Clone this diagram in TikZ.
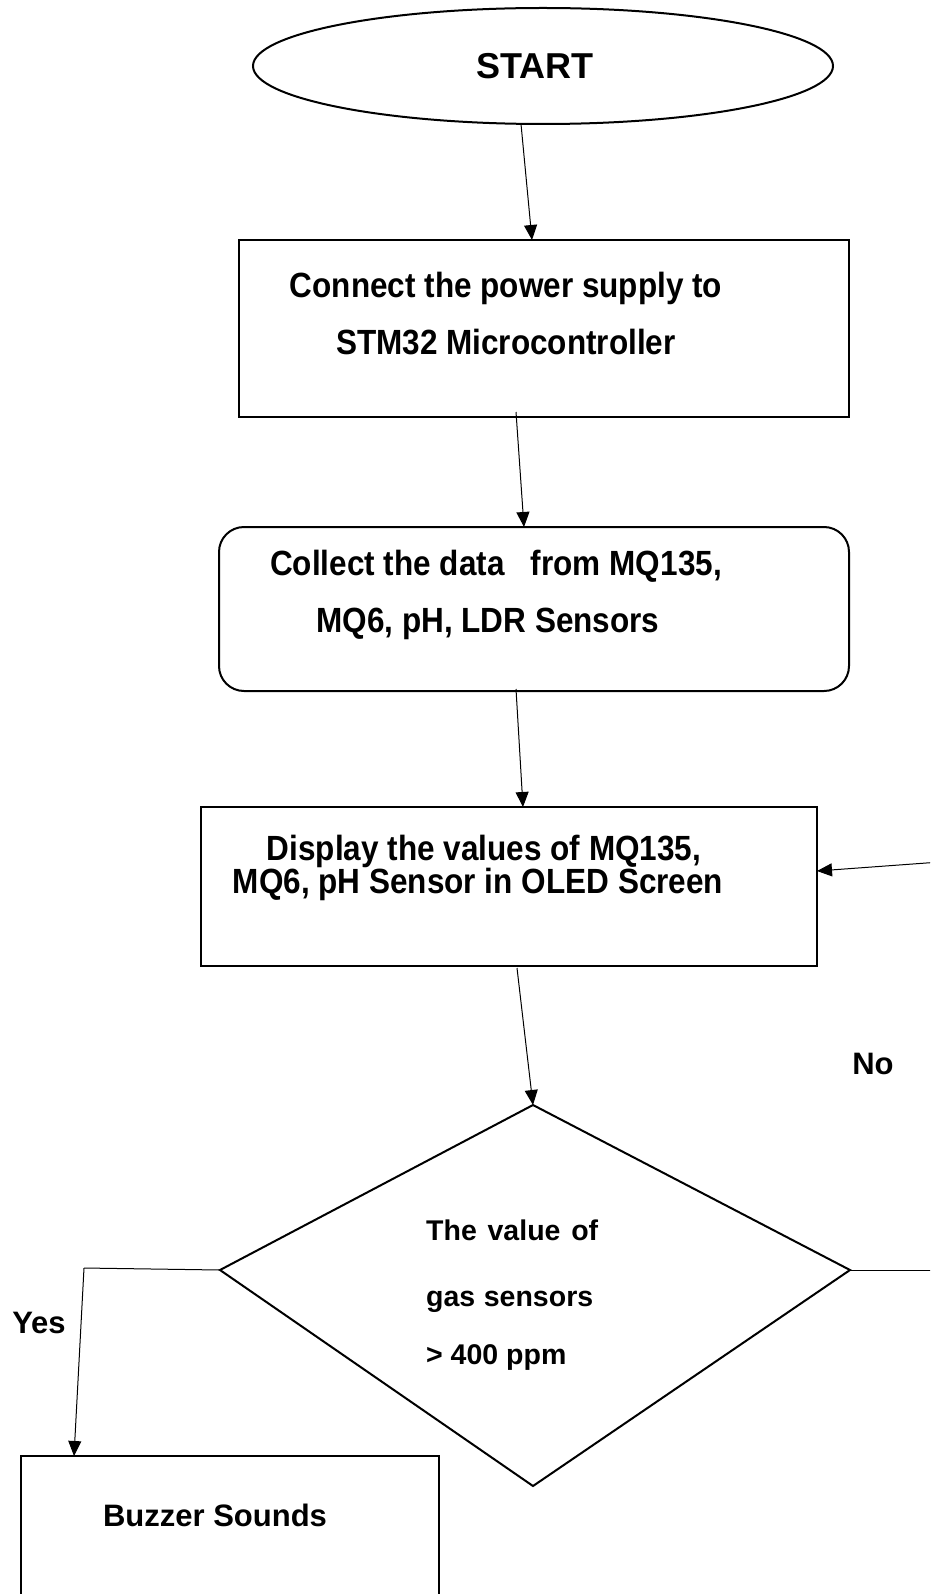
\documentclass[tikz,border=0pt]{standalone}
\usepackage{fontspec}
\setmainfont{Liberation Sans}
\newfontfamily\narrowfont{Liberation Sans}[FakeStretch=0.9]
\usetikzlibrary{shapes.geometric,arrows.meta}
\begin{document}
\begin{tikzpicture}[x=1pt,y=-1pt,
  shapebox/.style={draw,line width=2pt,inner sep=0pt,outer sep=0pt},
  boxtext/.style={font=\narrowfont\bfseries\fontsize{35}{40}\selectfont,inner sep=0pt,anchor=base},
  plaintext/.style={font=\bfseries\fontsize{31}{36}\selectfont,inner sep=0pt,anchor=base},
  dtext/.style={font=\bfseries\fontsize{28.5}{34}\selectfont,inner sep=0pt,anchor=base west},
  arr/.style={line width=1pt,-{Triangle[length=15pt,width=13pt]}},
  conn/.style={line width=1pt}]
\useasboundingbox (0,0) rectangle (930,1594);
\clip (0,0) rectangle (930,1594);
% shapes
\node[shapebox,ellipse,minimum width=580pt,minimum height=116pt] (start) at (543,66) {};
\node[font=\bfseries\fontsize{36}{42}\selectfont,inner sep=0pt,anchor=base] (starttxt) at (535,79) {START};
\node[shapebox,minimum width=610pt,minimum height=177pt] (b1) at (544,328.5) {};
\node[shapebox,rounded corners=25pt,minimum width=630pt,minimum height=164pt] (b2) at (534,609) {};
\node[shapebox,minimum width=616pt,minimum height=159pt] (b3) at (509,886.5) {};
\coordinate (dtop) at (533,1105);
\coordinate (dright) at (850,1270);
\coordinate (dbot) at (533,1486);
\coordinate (dleft) at (220,1270);
\draw[line width=2pt,line join=miter] (dtop) -- (dright) -- (dbot) -- (dleft) -- cycle;
\node[shapebox,minimum width=418pt,minimum height=184pt] (buz) at (230,1548) {};
% texts
\node[boxtext] (t1a) at (506,298) {Connect the power supply to};
\node[boxtext] (t1b) at (506,354) {STM32 Microcontroller};
\node[boxtext] (t2a) at (496,575) {Collect the data\ \ \ from MQ135,};
\node[boxtext] (t2b) at (488,632) {MQ6, pH, LDR Sensors};
\node[boxtext] (t3a) at (484,860) {Display the values of MQ135,};
\node[boxtext] (t3b) at (478,893) {MQ6, pH Sensor in OLED Screen};
\node[dtext] (d1) at (426,1240) {\makebox[172pt][s]{The value of}};
\node[dtext] (d2) at (426,1306) {\makebox[167pt][s]{gas sensors}};
\node[dtext] (d3) at (426,1364) {> 400 ppm};
\node[plaintext] (buztxt) at (215,1526) {Buzzer Sounds};
\node[plaintext] (yes) at (39,1333) {Yes};
\node[plaintext] (no) at (873,1074) {No};
% connectors
\draw[arr] ([xshift=-22pt]start.south) -- ([xshift=-12pt]b1.north);
\draw[arr] ([xshift=-28pt,yshift=5pt]b1.south) -- ([xshift=-10pt]b2.north);
\draw[arr] ([xshift=-18pt,yshift=2pt]b2.south) -- ([xshift=14pt]b3.north);
\draw[arr] ([xshift=8pt,yshift=-2pt]b3.south) -- (dtop);
\coordinate (yc) at (84,1268);
\draw[conn] (dleft) -- (yc);
\draw[arr] (yc) -- ([xshift=-156pt]buz.north);
\coordinate (nc) at (940,1270);
\draw[conn] (dright) -- (nc);
\coordinate (nc2) at (940,862);
\draw[arr] (nc2) -- ([yshift=15.5pt]b3.east);
\end{tikzpicture}
\end{document}
